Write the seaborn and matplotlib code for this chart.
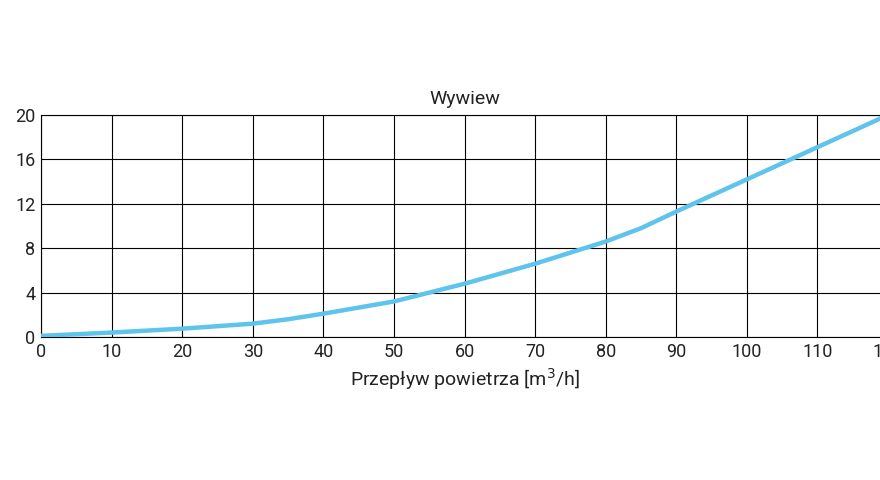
import matplotlib
matplotlib.use("Agg")
import matplotlib.pyplot as plt
import seaborn as sns
import pandas as pd

flow = [0, 10, 20, 30, 35, 40, 50, 60, 70, 80, 85, 90, 100, 110, 120]
pressure = [0.1, 0.4, 0.75, 1.2, 1.6, 2.1, 3.2, 4.8, 6.6, 8.6, 9.8, 11.3, 14.2, 17.1, 20.0]
xticks = list(range(0, 130, 10))
yticks = [0, 4, 8, 12, 16, 20]

sns.set_theme(style="white")
plt.rcParams['font.family'] = ['Roboto', 'DejaVu Sans']
fig = plt.figure(figsize=(8.8, 4.8), dpi=100)
ax = fig.add_axes([41/880, 1-337/480, 847/880, 222/480])
df = pd.DataFrame({"x": flow, "y": pressure})
sns.lineplot(data=df, x="x", y="y", ax=ax, color="#5ec4ec", lw=3.2, zorder=3)
ax.set_xlim(0, 120)
ax.set_ylim(0, 20)
ax.set_xticks(xticks)
ax.set_yticks(yticks)
ax.grid(True, color="black", lw=0.8)
for s in ax.spines.values():
    s.set_color("black"); s.set_linewidth(0.8)
ax.tick_params(labelsize=13, colors="#222222", length=0, pad=4)
ax.set_title("Wywiew", fontsize=14, color="#222222", pad=8)
ax.set_xlabel("Przepływ powietrza [m$^3$/h]", fontsize=14, color="#222222", labelpad=4)
ax.set_ylabel("")
fig.savefig("out.png", dpi=100)
